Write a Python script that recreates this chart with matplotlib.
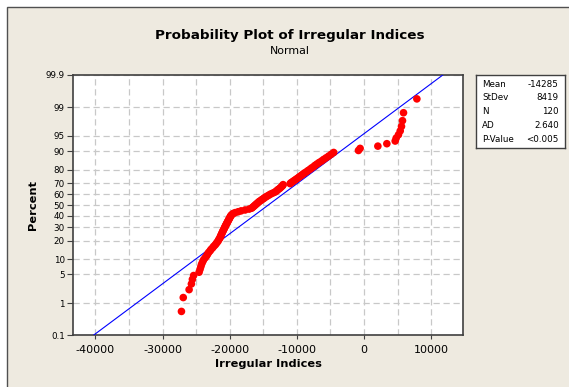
import numpy as np
import matplotlib
matplotlib.use("Agg")
import matplotlib.pyplot as plt
from matplotlib.patches import Rectangle
from statistics import NormalDist

# sorted irregular indices (n = 120)
indices = [
    -27190, -26920, -26050, -25710, -25560, -25380, -24560, -24420, -24300, -24190,
    -24040, -23890, -23670, -23450, -23300, -23150, -22930, -22780, -22550, -22400,
    -22180, -22030, -21880, -21730, -21660, -21510, -21440, -21360, -21290, -21210,
    -21140, -21060, -20990, -20910, -20840, -20760, -20690, -20620, -20540, -20470,
    -20390, -20320, -20240, -20170, -20090, -20020, -19950, -19870, -19800, -19650,
    -19500, -19200, -18750, -18310, -17710, -17110, -16740, -16590, -16440, -16290,
    -16150, -16000, -15850, -15700, -15550, -15330, -15180, -14950, -14800, -14580,
    -14360, -14130, -13910, -13610, -13310, -13090, -12940, -12790, -12570, -12420,
    -12270, -12120, -12050, -11000, -10860, -10630, -10410, -10190, -9960, -9740,
    -9520, -9290, -9070, -8840, -8550, -8320, -8030, -7800, -7500, -7280,
    -6980, -6680, -6310, -6010, -5640, -5270, -4900, -4520, -830, -580,
    2060, 3400, 4640, 4790, 5130, 5390, 5580, 5730, 5880, 7870,
]
mean_val = -14285
stdev_val = 8419
stats_labels = ["Mean", "StDev", "N", "AD", "P-Value"]
stats_values = ["-14285", "8419", "120", "2.640", "<0.005"]
pct_ticks = [0.1, 1, 5, 10, 20, 30, 40, 50, 60, 70, 80, 90, 95, 99, 99.9]
x_major = [-40000, -30000, -20000, -10000, 0, 10000]
x_minor = [-35000, -25000, -15000, -5000, 5000]

plt.rcParams['font.family'] = ['DejaVu Sans']
plt.rcParams['axes.unicode_minus'] = False

nd = NormalDist()


def to_z(p):
    p = np.clip(np.asarray(p, dtype=float), 1e-9, 100 - 1e-9)
    return np.vectorize(lambda v: nd.inv_cdf(v / 100.0), otypes=[float])(p)


def to_pct(z):
    z = np.asarray(z, dtype=float)
    return np.vectorize(lambda v: nd.cdf(v) * 100.0, otypes=[float])(z)


bg = '#EEEAE0'
fig = plt.figure(figsize=(5.69, 3.87), dpi=100, facecolor='white')
fig.patches.append(Rectangle((7 / 569, -0.1), 1.2, 1 - 7 / 387 + 0.1,
                             transform=fig.transFigure, facecolor=bg,
                             edgecolor='#505050', lw=1.0, zorder=-10))

ax = fig.add_axes([72.6 / 569, 1 - 335.3 / 387, 390.8 / 569, 260.3 / 387])
ax.set_facecolor('white')
ax.set_yscale('function', functions=(to_z, to_pct))

n = len(indices)
pct = (np.arange(1, n + 1) - 0.3) / (n + 0.4) * 100
z_lo, z_hi = to_z(0.1), to_z(99.9)
ax.plot([mean_val + z_lo * stdev_val, mean_val + z_hi * stdev_val], [0.1, 99.9],
        color='#0000FF', lw=0.8, zorder=3)
ax.scatter(indices, pct, s=30, color='#FF0000', edgecolors='none', zorder=4)

ax.set_ylim(0.1, 99.9)
ax.set_xlim(-43400, 14800)
ax.set_yticks(pct_ticks)
ax.set_yticklabels([f'{t:g}' for t in pct_ticks])
ax.set_xticks(x_major)
ax.set_xticks(x_minor, minor=True)
ax.yaxis.set_minor_locator(matplotlib.ticker.NullLocator())
ax.grid(True, which='both', color='#C8C8C8', ls=(0, (5, 3)), lw=0.9, zorder=1)
ax.set_axisbelow(True)
ax.tick_params(axis='y', labelsize=6.3, length=4, width=0.8, pad=1.5, color='#404040')
ax.tick_params(axis='x', which='major', labelsize=8, length=3, width=0.8, pad=4, color='#404040')
ax.tick_params(axis='x', which='minor', length=0)
for sp in ax.spines.values():
    sp.set_color('#404040')
    sp.set_linewidth(1.2)

ax.set_xlabel('Irregular Indices', fontsize=8.2, fontweight='bold', labelpad=3)
ax.set_ylabel('Percent', fontsize=8.2, fontweight='bold', labelpad=6)

fig.text(290 / 569, 1 - 35 / 387, 'Probability Plot of Irregular Indices',
         ha='center', va='center', fontsize=9.7, fontweight='bold')
fig.text(290 / 569, 1 - 51.5 / 387, 'Normal', ha='center', va='center', fontsize=7.9)

# stats box
box = fig.add_axes([476.4 / 569, 1 - 147.7 / 387, 88.2 / 569, 72.7 / 387])
box.set_xticks([])
box.set_yticks([])
box.set_facecolor('white')
for sp in box.spines.values():
    sp.set_color('#404040')
    sp.set_linewidth(1.0)
row_y = [84.3, 97.3, 111.3, 125.3, 139.3]
for lab, val, yy in zip(stats_labels, stats_values, row_y):
    fig.text(481.9 / 569, 1 - yy / 387, lab, ha='left', va='center', fontsize=6.3)
    fig.text(558.8 / 569, 1 - yy / 387, val, ha='right', va='center', fontsize=6.3)

fig.savefig('out.png', dpi=100, facecolor='white')
